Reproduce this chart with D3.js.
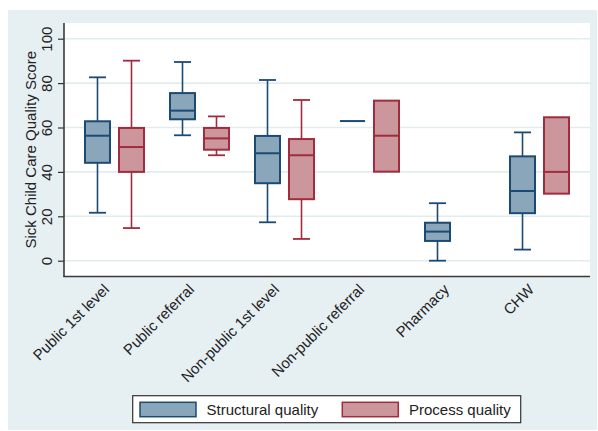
<!DOCTYPE html>
<html>
<head>
<meta charset="utf-8">
<script src="https://cdn.jsdelivr.net/npm/d3@7"></script>
<style>
  html, body { margin: 0; padding: 0; background: #ffffff; }
  svg { display: block; font-family: "Liberation Sans", Arial, sans-serif; }
</style>
</head>
<body>
<svg id="chart" width="598" height="431"></svg>
<script>
// ---- data ----
const categories = ["Public 1st level", "Public referral", "Non-public 1st level", "Non-public referral", "Pharmacy", "CHW"];
const seriesNames = ["Structural quality", "Process quality"];

const structMin = [21.6, 56.5, 17.3, 62.9, 0.0, 5.0];
const structQ1  = [44.1, 63.7, 34.9, 62.9, 8.9, 21.4];
const structMed = [56.3, 67.6, 48.4, 62.9, 13.1, 31.4];
const structQ3  = [62.8, 75.5, 56.2, 62.9, 17.1, 47.0];
const structMax = [82.6, 89.5, 81.4, 62.9, 25.9, 57.8];

const procMin = [14.7, 47.5, 9.8, 40.1, null, 30.2];
const procQ1  = [40.0, 50.0, 27.7, 40.1, null, 30.2];
const procMed = [51.2, 55.1, 47.5, 56.3, null, 40.0];
const procQ3  = [59.8, 59.8, 54.8, 72.1, null, 64.6];
const procMax = [90.1, 65.0, 72.4, 72.1, null, 64.6];

const yTicks = [0, 20, 40, 60, 80, 100];
const yTitle = "Sick Child Care Quality Score";

// ---- styles ----
const bgColor = "#e6eff2";
const gridColor = "#e2ecef";
const fontSize = 15;
const colors = {
  "Structural quality": { stroke: "#1b4a72", fill: "#8aa6bb" },
  "Process quality":    { stroke: "#a02c3d", fill: "#cb969c" }
};

const svg = d3.select("#chart");

// graph region background
svg.append("rect").attr("x", 8).attr("y", 10).attr("width", 589).attr("height", 420).attr("fill", bgColor);

const plot = { left: 64, right: 590, top: 23, bottom: 276.5 };
svg.append("rect").attr("x", plot.left).attr("y", plot.top)
  .attr("width", plot.right - plot.left).attr("height", plot.bottom - plot.top).attr("fill", "#ffffff");

const y = d3.scaleLinear().domain([0, 100]).range([260.7, 38.7]);
const x = d3.scalePoint().domain(categories).range([plot.left, plot.right]).padding(0.594);
const xs = d3.scalePoint().domain(seriesNames).range([-17, 17]);
const boxW = 25, capW = 17;

// gridlines
svg.append("g").selectAll("line").data(yTicks).join("line")
  .attr("x1", plot.left).attr("x2", plot.right)
  .attr("y1", d => y(d)).attr("y2", d => y(d))
  .attr("stroke", gridColor).attr("stroke-width", 1.6);

// y axis
const yAxis = svg.append("g").attr("transform", `translate(${plot.left},0)`)
  .call(d3.axisLeft(y).tickValues(yTicks).tickSize(6).tickPadding(0).tickFormat(d3.format("d")));
yAxis.select(".domain").remove();
yAxis.selectAll(".tick line").attr("stroke", "#333").attr("stroke-width", 1.2);
yAxis.selectAll(".tick text")
  .attr("font-size", fontSize).attr("fill", "#222")
  .attr("text-anchor", "middle")
  .attr("x", null).attr("dy", null)
  .attr("transform", "translate(-12,0) rotate(-90)");

// axis lines
svg.append("line").attr("x1", plot.left).attr("x2", plot.left).attr("y1", plot.top).attr("y2", plot.bottom)
  .attr("stroke", "#3a3a3a").attr("stroke-width", 1.6);
svg.append("line").attr("x1", plot.left - 0.8).attr("x2", plot.right).attr("y1", plot.bottom).attr("y2", plot.bottom)
  .attr("stroke", "#3a3a3a").attr("stroke-width", 1.6);

// y title
svg.append("text").attr("transform", `translate(35.5,${(y(0) + y(100)) / 2}) rotate(-90)`)
  .attr("text-anchor", "middle").attr("font-size", fontSize).attr("fill", "#222").text(yTitle);

// x labels
svg.append("g").selectAll("text").data(categories).join("text")
  .attr("transform", d => `translate(${x(d) - 4.5},290.5) rotate(-45)`)
  .attr("text-anchor", "end").attr("font-size", fontSize).attr("fill", "#222").text(d => d);

// boxes
const boxData = [];
categories.forEach((c, i) => {
  boxData.push({ cat: c, s: seriesNames[0], lo: structMin[i], q1: structQ1[i], med: structMed[i], q3: structQ3[i], hi: structMax[i] });
  if (procMed[i] !== null)
    boxData.push({ cat: c, s: seriesNames[1], lo: procMin[i], q1: procQ1[i], med: procMed[i], q3: procQ3[i], hi: procMax[i] });
});

const g = svg.append("g").selectAll("g").data(boxData).join("g")
  .attr("transform", d => `translate(${x(d.cat) + xs(d.s)},0)`);

g.each(function (d) {
  const sel = d3.select(this);
  const col = colors[d.s].stroke;
  if (d.hi > d.q3) {
    sel.append("line").attr("x1", 0).attr("x2", 0).attr("y1", y(d.q3)).attr("y2", y(d.hi)).attr("stroke", col).attr("stroke-width", 1.6);
    sel.append("line").attr("x1", -capW / 2).attr("x2", capW / 2).attr("y1", y(d.hi)).attr("y2", y(d.hi)).attr("stroke", col).attr("stroke-width", 1.8);
  }
  if (d.lo < d.q1) {
    sel.append("line").attr("x1", 0).attr("x2", 0).attr("y1", y(d.q1)).attr("y2", y(d.lo)).attr("stroke", col).attr("stroke-width", 1.6);
    sel.append("line").attr("x1", -capW / 2).attr("x2", capW / 2).attr("y1", y(d.lo)).attr("y2", y(d.lo)).attr("stroke", col).attr("stroke-width", 1.8);
  }
  sel.append("rect").attr("x", -boxW / 2).attr("width", boxW)
    .attr("y", y(d.q3)).attr("height", y(d.q1) - y(d.q3))
    .attr("fill", colors[d.s].fill).attr("stroke", col).attr("stroke-width", 2);
  sel.append("line").attr("x1", -boxW / 2).attr("x2", boxW / 2).attr("y1", y(d.med)).attr("y2", y(d.med))
    .attr("stroke", col).attr("stroke-width", 2);
});

// legend
const leg = svg.append("g");
leg.append("rect").attr("x", 132.7).attr("y", 395.7).attr("width", 388).attr("height", 27)
  .attr("fill", "#ffffff").attr("stroke", "#333").attr("stroke-width", 1.2);
const legItems = [
  { s: seriesNames[0], sx: 140, tx: 206.5 },
  { s: seriesNames[1], sx: 342.3, tx: 409 }
];
legItems.forEach(it => {
  leg.append("rect").attr("x", it.sx).attr("y", 402.3).attr("width", 56).attr("height", 14.4)
    .attr("fill", colors[it.s].fill).attr("stroke", colors[it.s].stroke).attr("stroke-width", 1.5);
  leg.append("text").attr("x", it.tx).attr("y", 414.5).attr("font-size", fontSize).attr("fill", "#222").text(it.s);
});
</script>
</body>
</html>
